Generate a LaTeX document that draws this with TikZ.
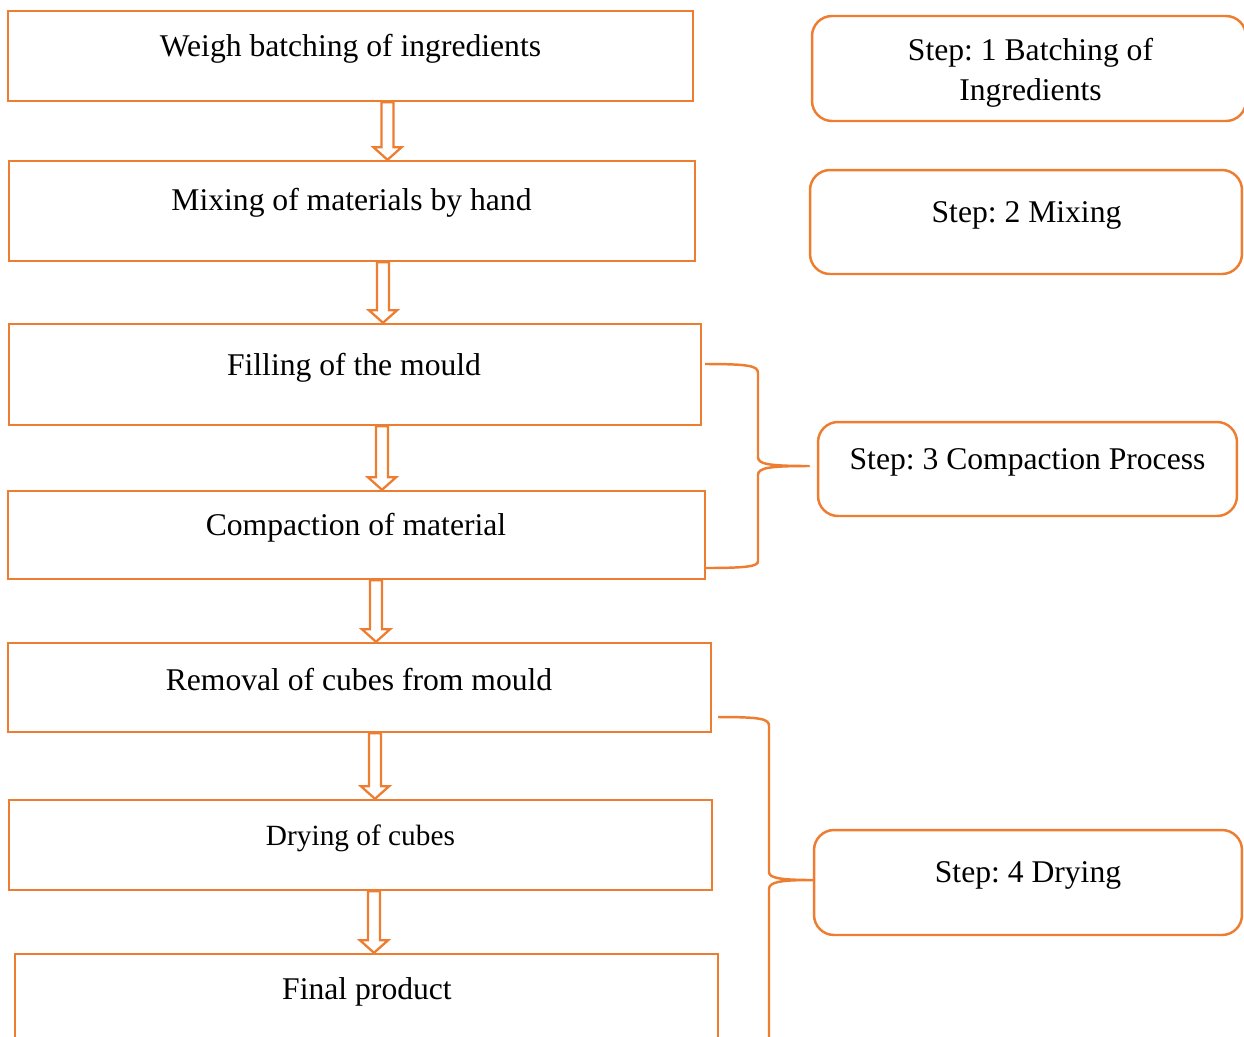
\documentclass[tikz,border=0pt]{standalone}
\usepackage{fontspec}
\setmainfont{Liberation Serif}
\usepackage{xcolor}
\usetikzlibrary{calc}
\definecolor{boxorange}{HTML}{ED7D31}
\frenchspacing

% hollow block arrow between two boxes, at a given x
\newcommand{\hollowarrow}[3]{%
  \draw[arrowline] let \p1=(#1.south), \p2=(#2.north), \p3=(#3,0) in
    (\x3-3.41pt,\y1) -- (\x3-3.41pt,\y2+7.1pt) -- (\x3-7.97pt,\y2+7.1pt) -- (\x3,\y2)
    -- (\x3+7.97pt,\y2+7.1pt) -- (\x3+3.41pt,\y2+7.1pt) -- (\x3+3.41pt,\y1) -- cycle;}

\begin{document}
\begin{tikzpicture}[x=0.02cm, y=-0.02cm,
			flowbox/.style={draw=boxorange, line width=1.4pt, rectangle, inner sep=0pt},
			stepbox/.style={flowbox, rounded corners=0.4cm},
			boxtext/.style={font=\fontsize{18}{22.8}\selectfont, align=center, inner sep=0pt},
			arrowline/.style={draw=boxorange, line width=1.3pt, line join=miter},
			brace/.style={draw=boxorange, line width=1.4pt, line join=round}]

			\useasboundingbox (0,0) rectangle (1244,1036);

			% process boxes
			\node[flowbox, minimum width=13.70cm, minimum height=1.80cm] (weigh) at (350.5,56) {};
			\node[flowbox, minimum width=13.72cm, minimum height=2.00cm] (mixing) at (352,211) {};
			\node[flowbox, minimum width=13.84cm, minimum height=2.02cm] (filling) at (355,374.5) {};
			\node[flowbox, minimum width=13.94cm, minimum height=1.76cm] (compaction) at (356.5,535) {};
			\node[flowbox, minimum width=14.06cm, minimum height=1.78cm] (removal) at (359.5,687.5) {};
			\node[flowbox, minimum width=14.06cm, minimum height=1.80cm] (drying) at (360.5,845) {};
			\node[flowbox, minimum width=14.06cm, minimum height=1.80cm] (final) at (366.5,999) {};

			\node[boxtext] (weigh-txt) at (350.5,49) {Weigh batching of ingredients};
			\node[boxtext] (mixing-txt) at (351.5,203) {Mixing of materials by hand};
			\node[boxtext] (filling-txt) at (354,368) {Filling of the mould};
			\node[boxtext] (compaction-txt) at (356,528) {Compaction of material};
			\node[boxtext] (removal-txt) at (359,680) {Removal of cubes from mould};
			\node[boxtext, font=\fontsize{16.7}{20}\selectfont] (drying-txt) at (360.5,838) {Drying of cubes};
			\node[boxtext] (final-txt) at (367,992) {Final product};

			% step boxes
			\node[stepbox, minimum width=8.68cm, minimum height=2.10cm] (step1) at (1029,68.5) {};
			\node[stepbox, minimum width=8.64cm, minimum height=2.08cm] (step2) at (1026,222) {};
			\node[stepbox, minimum width=8.38cm, minimum height=1.88cm] (step3) at (1027.5,469) {};
			\node[stepbox, minimum width=8.56cm, minimum height=2.10cm] (step4) at (1028,882.5) {};

			\node[boxtext] (step1-txt) at (1030.5,73) {Step: 1 Batching of\\Ingredients};
			\node[boxtext] (step2-txt) at (1026.5,215) {Step: 2 Mixing};
			\node[boxtext] (step3-txt) at (1027.5,462) {Step: 3 Compaction Process};
			\node[boxtext] (step4-txt) at (1028,875) {Step: 4 Drying};

			% arrows
			\hollowarrow{weigh}{mixing}{387.5}
			\hollowarrow{mixing}{filling}{383}
			\hollowarrow{filling}{compaction}{382}
			\hollowarrow{compaction}{removal}{376}
			\hollowarrow{removal}{drying}{375}
			\hollowarrow{drying}{final}{374}

			% braces
			\coordinate (b1top) at (705,364);
			\coordinate (b1bot) at (705,568);
			\coordinate (b1tip) at (809,466);
			\draw[brace] (b1top) .. controls (750,364) and (758,366) .. (758,373) -- (758,457)
				.. controls (758,464) and (768,466) .. (b1tip)
				.. controls (768,466) and (758,468) .. (758,475) -- (758,561)
				.. controls (758,566) and (750,568) .. (b1bot);

			\coordinate (b2top) at (718,717);
			\coordinate (b2bot) at (769,1040);
			\draw[brace] (b2top) .. controls (762,717) and (769,719) .. (769,726) -- (769,872)
				.. controls (769,878) and (780,880) .. (step4.west |- 0,880)
				.. controls (780,880) and (769,882) .. (769,889) -- (b2bot);
\end{tikzpicture}
\end{document}
